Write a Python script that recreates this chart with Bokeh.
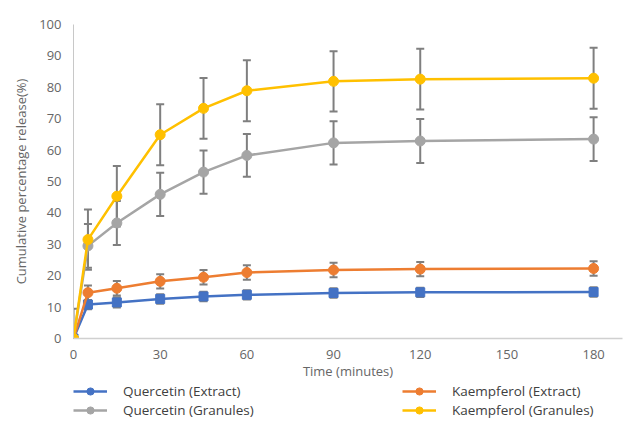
from bokeh.plotting import figure
from bokeh.models import ColumnDataSource, Legend, LegendItem, Range1d, FixedTicker
from bokeh.layouts import column
from bokeh.embed import file_html
from bokeh.resources import INLINE

time_min = [0, 5, 15, 30, 45, 60, 90, 120, 180]
quercetin_extract = [0, 10.8, 11.5, 12.6, 13.4, 13.9, 14.5, 14.7, 14.8]
quercetin_extract_err = [0, 1.5, 1.6, 1.5, 1.5, 1.5, 1.5, 1.5, 1.5]
kaempferol_extract = [0, 14.6, 16.0, 18.2, 19.5, 21.0, 21.8, 22.1, 22.3]
kaempferol_extract_err = [0, 2.3, 2.3, 2.3, 2.3, 2.3, 2.3, 2.3, 2.3]
quercetin_granules = [0, 29.5, 36.8, 45.9, 53.0, 58.3, 62.3, 62.9, 63.5]
quercetin_granules_err = [0, 7.0, 7.0, 6.9, 6.9, 6.8, 6.9, 7.0, 7.0]
kaempferol_granules = [0, 31.5, 45.3, 64.9, 73.3, 78.9, 81.9, 82.6, 82.9]
kaempferol_granules_err = [9.5, 9.6, 9.6, 9.7, 9.7, 9.7, 9.6, 9.7, 9.7]
x_ticks = [0, 30, 60, 90, 120, 150, 180]
y_ticks = [0, 10, 20, 30, 40, 50, 60, 70, 80, 90, 100]

series = [
    ("Quercetin (Extract)", quercetin_extract, quercetin_extract_err, "#4472C4", "square"),
    ("Kaempferol (Extract)", kaempferol_extract, kaempferol_extract_err, "#ED7D31", "circle"),
    ("Quercetin (Granules)", quercetin_granules, quercetin_granules_err, "#A5A5A5", "circle"),
    ("Kaempferol (Granules)", kaempferol_granules, kaempferol_granules_err, "#FFC000", "circle"),
]

FONT = "Open Sans"
TXT = "#666666"

p = figure(width=624, height=382, output_backend="svg", toolbar_location=None,
           x_range=Range1d(0, 190), y_range=Range1d(0, 100),
           min_border_left=73, min_border_right=2, min_border_top=24, min_border_bottom=44)
p.outline_line_color = None
p.grid.visible = False
p.background_fill_color = "white"
p.border_fill_color = "white"

p.xaxis.ticker = FixedTicker(ticks=x_ticks)
p.yaxis.ticker = FixedTicker(ticks=y_ticks)
for ax in (p.xaxis[0], p.yaxis[0]):
    ax.major_tick_line_color = None
    ax.minor_tick_line_color = None
    ax.major_tick_out = 0
    ax.major_tick_in = 0
    ax.major_label_text_font = FONT
    ax.major_label_text_font_size = "13px"
    ax.major_label_text_color = TXT
    ax.axis_label_text_font = FONT
    ax.axis_label_text_font_size = "13px"
    ax.axis_label_text_color = TXT
    ax.axis_label_text_font_style = "normal"
p.yaxis.axis_line_color = "#c8c8c8"
p.yaxis.axis_line_width = 1
p.xaxis.axis_line_color = "#d0d0d0"
p.xaxis.axis_line_width = 1.5
p.yaxis.major_label_standoff = 12
p.xaxis.major_label_standoff = 11
p.yaxis.axis_label = "Cumulative percentage release(%)"
p.xaxis.axis_label = "Time (minutes)"
p.yaxis.axis_label_standoff = 6
p.xaxis.axis_label_standoff = 0

EB = "#7f7f7f"
for name, vals, errs, color, marker in series:
    up = [v + e for v, e in zip(vals, errs)]
    lo = [v - e for v, e in zip(vals, errs)]
    src = ColumnDataSource(dict(x=time_min, up=up, lo=lo))
    p.segment(x0="x", y0="lo", x1="x", y1="up", source=src, line_color=EB, line_width=2)
    p.scatter(x="x", y="up", source=src, marker="dash", size=8, line_color=EB, line_width=2)
    p.scatter(x="x", y="lo", source=src, marker="dash", size=8, line_color=EB, line_width=2)

for name, vals, errs, color, marker in series:
    src = ColumnDataSource(dict(x=time_min, y=vals))
    p.line(x="x", y="y", source=src, line_color=color, line_width=2.5)
    p.scatter(x="x", y="y", source=src, marker=marker, size=10 if marker == "circle" else 9,
              fill_color=color, line_color=color)

# legend strip below the chart (its frame is aligned with the chart's frame)
lf = figure(width=624, height=37, output_backend="svg", toolbar_location=None,
            x_range=Range1d(0, 1), y_range=Range1d(0, 1),
            x_axis_type=None, y_axis_type=None,
            min_border_left=0, min_border_right=0, min_border_top=0, min_border_bottom=0)
lf.grid.visible = False
lf.outline_line_color = None
items = []
for name, vals, errs, color, marker in series:
    lr = lf.line(x=[-10, -9], y=[-10, -9], line_color=color, line_width=2.5)
    mr = lf.scatter(x=[-10], y=[-10], marker="circle", size=9, fill_color=color, line_color=color)
    items.append(LegendItem(label=name, renderers=[lr, mr]))

legend = Legend(items=items, location=(0, 0), orientation="horizontal", ncols=2,
                glyph_width=34, glyph_height=18, label_standoff=16, label_width=278,
                label_height=18, spacing=1, padding=0, margin=0,
                label_text_font=FONT, label_text_font_size="13.5px", label_text_color="#404040",
                border_line_color=None, background_fill_alpha=0)
lf.add_layout(legend, "center")

layout = column(p, lf)
open("out.html", "w").write(file_html(layout, INLINE))
